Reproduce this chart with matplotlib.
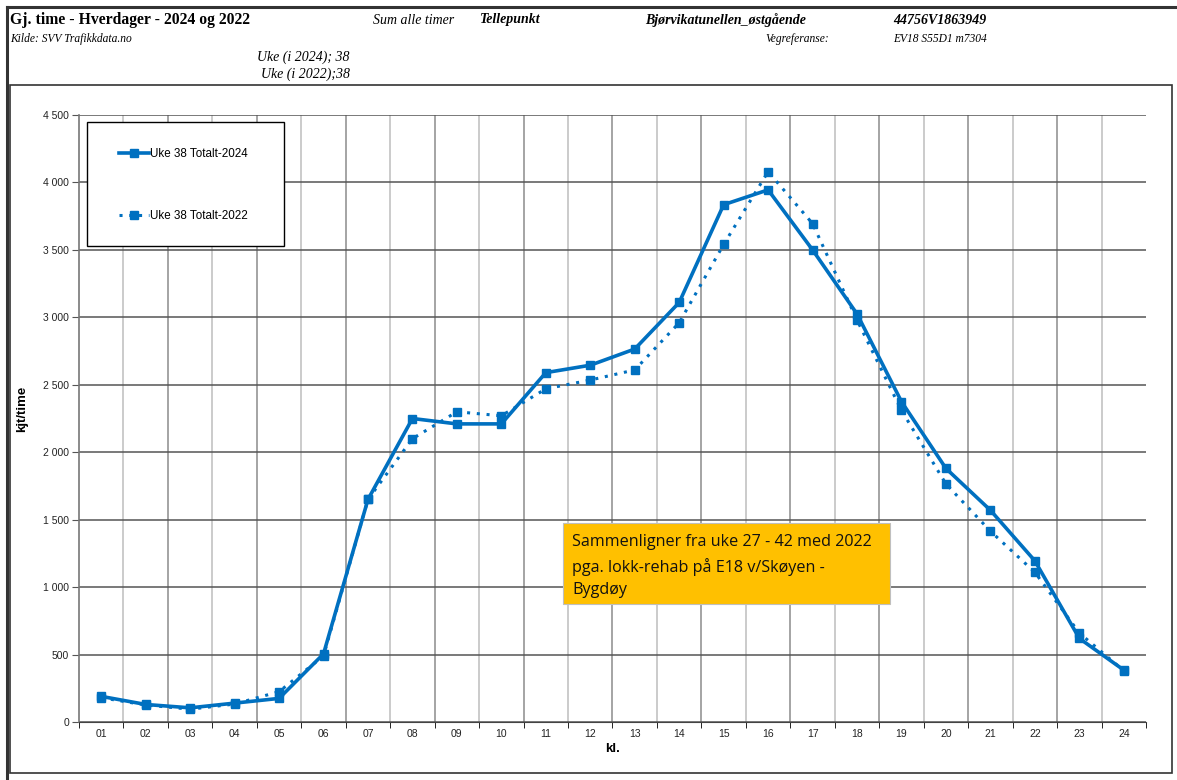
import matplotlib.pyplot as plt
from matplotlib.patches import Rectangle
from matplotlib.lines import Line2D
from matplotlib.ticker import FuncFormatter, MultipleLocator, FixedLocator
import numpy as np

plt.rcParams['font.family'] = ['Liberation Sans', 'DejaVu Sans']

# chart data
hours = ['01', '02', '03', '04', '05', '06', '07', '08', '09', '10', '11', '12',
         '13', '14', '15', '16', '17', '18', '19', '20', '21', '22', '23', '24']
uke38_2024 = [190, 130, 105, 140, 175, 505, 1650, 2250, 2210, 2210, 2590, 2645,
              2765, 3110, 3835, 3945, 3500, 3025, 2375, 1880, 1570, 1195, 620, 385]
uke38_2022 = [180, 126, 95, 133, 225, 490, 1650, 2100, 2300, 2270, 2470, 2535,
              2610, 2960, 3540, 4080, 3695, 2980, 2310, 1765, 1415, 1110, 660, 380]

BLUE = '#0070C0'
W, H = 1177, 780

fig = plt.figure(figsize=(W / 100, H / 100), dpi=100)

# axes placed in pixel coordinates
ax_l, ax_r, ax_t, ax_b = 79, 1146, 115, 722
ax = fig.add_axes([ax_l / W, 1 - ax_b / H, (ax_r - ax_l) / W, (ax_b - ax_t) / H])


def axfrac(xp, yp):
    return (xp - ax_l) / (ax_r - ax_l), 1 - (yp - ax_t) / (ax_b - ax_t)


x = np.arange(len(hours))
ax.plot(x, uke38_2024, color=BLUE, lw=2.6, marker='s', ms=5.5,
        label='Uke 38 Totalt-2024', zorder=4)
ax.plot(x, uke38_2022, color=BLUE, lw=2.2, ls=(0, (1, 2.2)), marker='s', ms=5.5,
        label='Uke 38 Totalt-2022', zorder=3)

ax.set_xlim(-0.5, len(hours) - 0.5)
ax.set_ylim(0, 4500)

# y axis
ax.yaxis.set_major_locator(MultipleLocator(500))
ax.yaxis.set_major_formatter(FuncFormatter(lambda v, p: f'{int(v):,}'.replace(',', ' ')))
ax.grid(axis='y', color='#555555', lw=1.1)

# x axis: labels at categories, ticks/grid at boundaries
ax.set_xticks(x)
ax.set_xticklabels(hours)
ax.tick_params(axis='x', which='major', length=0, pad=5)
ax.xaxis.set_minor_locator(FixedLocator(np.arange(-0.5, len(hours), 1.0)))
ax.tick_params(axis='x', which='minor', length=4, color='black')
for i, b in enumerate(np.arange(0.5, len(hours) - 0.5, 1.0)):
    ax.axvline(b, color='#8c8c8c' if i % 2 else '#bdbdbd', lw=1.1, zorder=0)

ax.tick_params(axis='y', length=5, color='#555555', pad=2)
ax.tick_params(labelsize=7.5, labelcolor='#222222')

ax.spines['top'].set_visible(False)
ax.spines['right'].set_visible(False)
ax.spines['left'].set_color('#777777')
ax.spines['left'].set_linewidth(1.2)
ax.spines['bottom'].set_color('#444444')
ax.set_axisbelow(True)

ax.set_xlabel('kl.', fontsize=9.5, fontweight='bold', labelpad=3)
ax.set_ylabel('kjt/time', fontsize=9.5, fontweight='bold')
ax.yaxis.set_label_coords(*axfrac(28, 409))

# legend: manual frame, legend entries without frame
ax.add_patch(Rectangle(axfrac(87, 246), (284 - 87) / (ax_r - ax_l), (246 - 122) / (ax_b - ax_t),
                       transform=ax.transAxes, facecolor='white', edgecolor='black',
                       lw=1.0, zorder=6))
leg = ax.legend(loc='upper left', bbox_to_anchor=axfrac(119, 148),
                prop={'size': 8.4}, frameon=False, labelspacing=4.25,
                handlelength=2.55, handletextpad=0.1, borderaxespad=0, borderpad=0)
leg.set_zorder(7)

# annotation box
ax.add_patch(Rectangle(axfrac(563, 604), (890 - 563) / (ax_r - ax_l), (604 - 523) / (ax_b - ax_t),
                       transform=ax.transAxes, facecolor='#FFC000', edgecolor='#bfbfbf',
                       lw=0.8, zorder=5))
ax.text(*axfrac(572, 566),
        'Sammenligner fra uke 27 - 42 med 2022\npga. lokk-rehab på E18 v/Skøyen -\nBygdøy',
        transform=ax.transAxes, va='center', ha='left', fontsize=11.6, family='Open Sans',
        linespacing=1.55, color='#111111', zorder=6)

# frames
fig.add_artist(Line2D([7 / W, 7 / W], [0, 1 - 7 / H], color='#333333', lw=2.2))
fig.add_artist(Line2D([7 / W, 1], [1 - 7 / H, 1 - 7 / H], color='#333333', lw=2.2))
fig.add_artist(Rectangle((10 / W, 1 - 773 / H), (1172 - 10) / W, (773 - 85) / H, fill=False,
                         edgecolor='#333333', lw=1.2, transform=fig.transFigure))

# header
serif = 'Liberation Serif'


def htxt(xp, yp, s, size=10, weight='normal', style='italic', ha='left'):
    fig.text(xp / W, 1 - yp / H, s, fontsize=size, fontweight=weight, fontstyle=style,
             family=serif, ha=ha, va='center')


htxt(10, 20, 'Gj. time - Hverdager - 2024 og 2022', size=11.3, weight='bold', style='normal')
htxt(373, 20, 'Sum alle timer', size=10)
htxt(480, 20, 'Tellepunkt', size=10, weight='bold')
htxt(645, 20, 'Bjørvikatunellen_østgående', size=10, weight='bold')
htxt(893, 20, '44756V1863949', size=10, weight='bold')
htxt(10, 39, 'Kilde: SVV Trafikkdata.no', size=8.3)
htxt(829, 39, 'Vegreferanse:', size=8.3, ha='right')
htxt(893, 39, 'EV18 S55D1 m7304', size=8.3)
htxt(350, 57, 'Uke (i 2024); 38', size=10, ha='right')
htxt(350, 74, 'Uke (i 2022);38', size=10, ha='right')

fig.savefig('out.png', dpi=100)
